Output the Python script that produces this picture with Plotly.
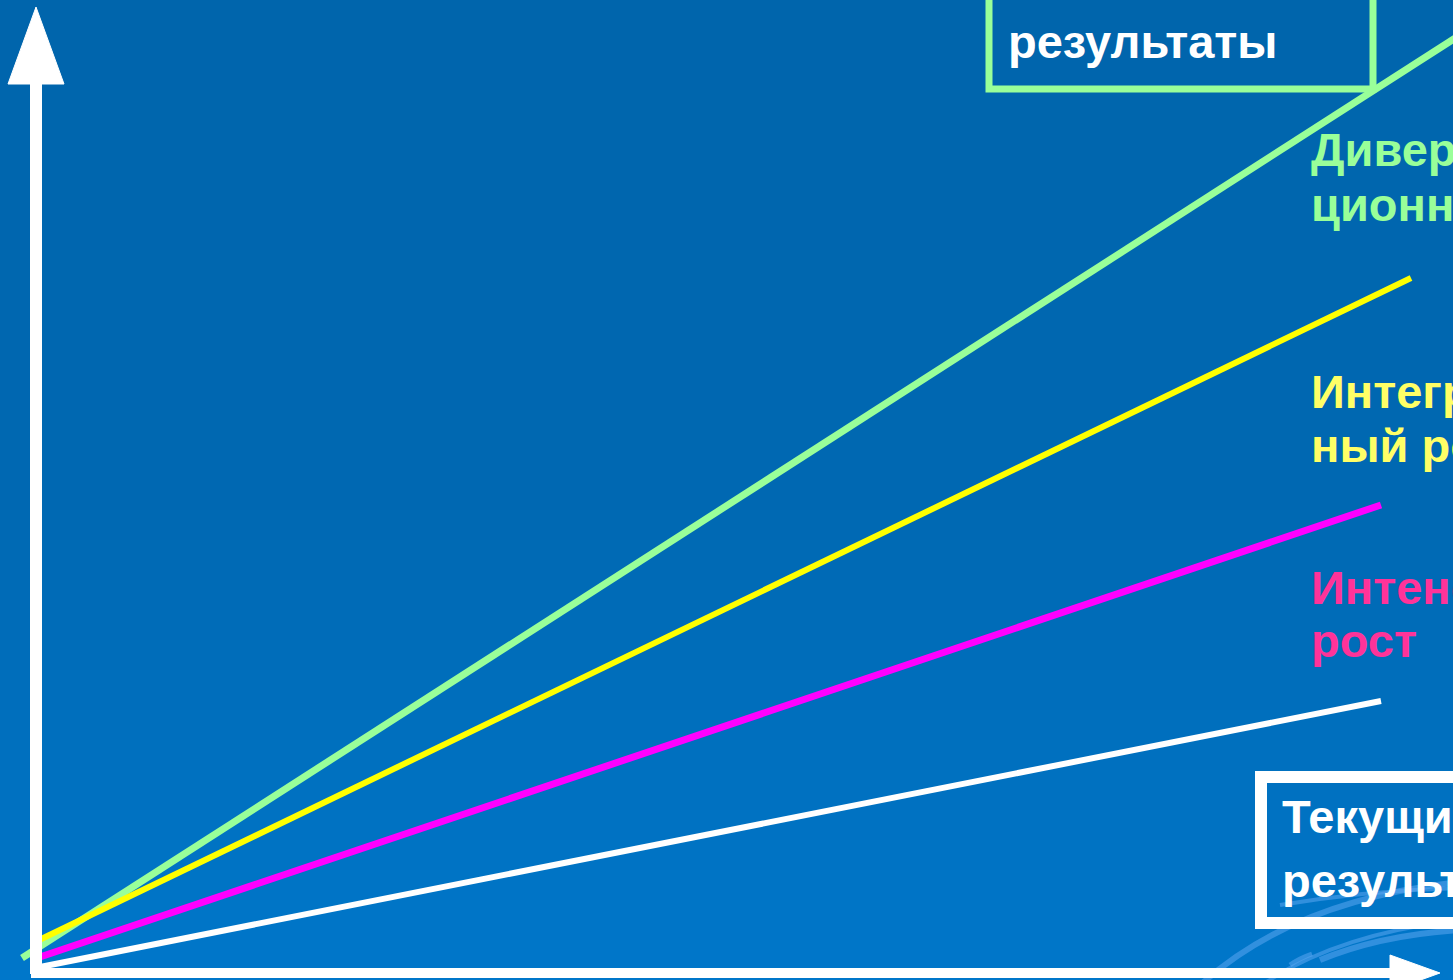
import plotly.graph_objects as go

W, H = 1453, 980

# ---- data: growth lines (start/end in chart units, y measured upward) ----
series_names = ["Диверсификационный рост", "Интеграционный рост", "Интенсивный рост", "Текущие результаты"]
series_colors = ["#99FF99", "#FFFF00", "#FF00FF", "#FFFFFF"]
series_widths = [7, 6, 7, 6]
x_start = [22, 35, 37, 40]
x_end = [1460, 1411, 1381, 1381]
y_start = [22, 38, 22, 13]
y_end = [945, 702, 475, 279]

# ---- text labels ----
label_lines = [
    ["Диверсифика-", "ционный рост"],
    ["Интеграцион-", "ный рост"],
    ["Интенсивный", "рост"],
]
label_text_colors = ["#99FF99", "#FFFF66", "#FF3399"]
label_x = 1309
label_centers_px = [(149, 204), (391, 445), (587, 640)]

top_box_lines = ["Желаемые", "результаты"]
bottom_box_lines = ["Текущие", "результаты"]

FONT = "Liberation Sans, Arial, sans-serif"
FS = 47


def py(v):
    """pixel row -> chart y (upward)"""
    return H - v


fig = go.Figure()

for name, c, w, xs, xe, ys, ye in zip(series_names, series_colors, series_widths,
                                      x_start, x_end, y_start, y_end):
    fig.add_trace(go.Scatter(x=[xs, xe], y=[ys, ye], mode="lines", name=name,
                             line=dict(color=c, width=w), hoverinfo="skip"))

shapes = []
# background gradient bands
top_rgb = (0, 101, 172)
mid_rgb = (0, 104, 178)
bot_rgb = (0, 119, 202)
step = 10
for r in range(0, H, step):
    t = r / H
    if t < 0.5:
        a, b, u = top_rgb, mid_rgb, t / 0.5
    else:
        a, b, u = mid_rgb, bot_rgb, (t - 0.5) / 0.5
    col = tuple(round(a[i] + (b[i] - a[i]) * u) for i in range(3))
    shapes.append(dict(type="rect", xref="x", yref="y", x0=0, x1=W,
                       y0=py(r + step + 1), y1=py(r), line=dict(width=0),
                       fillcolor="rgb(%d,%d,%d)" % col, layer="below"))

# decorative swirl arcs (bottom right)
swirl = "rgba(90,165,240,0.55)"
arcs = [
    ((1195, 990), (1290, 900), (1460, 882), 6),
    ((1320, 960), (1380, 935), (1460, 930), 6),
    ((1255, 990), (1330, 935), (1460, 920), 4),
    ((1290, 965), (1300, 958), (1312, 954), 5),
    ((1280, 905), (1370, 890), (1460, 888), 4),
]
for (p0, pc, p1, wd) in arcs:
    path = "M %f,%f Q %f,%f %f,%f" % (p0[0], py(p0[1]), pc[0], py(pc[1]), p1[0], py(p1[1]))
    shapes.append(dict(type="path", xref="x", yref="y", path=path,
                       line=dict(color=swirl, width=wd), layer="below"))

# axes (white bars + arrow heads)
shapes.append(dict(type="line", xref="x", yref="y", x0=36, x1=36, y0=py(974), y1=py(78),
                   line=dict(color="white", width=12)))
shapes.append(dict(type="path", xref="x", yref="y",
                   path="M %f,%f L %f,%f L %f,%f Z" % (36, py(7), 8, py(84), 64, py(84)),
                   fillcolor="white", line=dict(color="white", width=1)))
shapes.append(dict(type="line", xref="x", yref="y", x0=31, x1=1395, y0=py(973), y1=py(973),
                   line=dict(color="white", width=10)))
shapes.append(dict(type="path", xref="x", yref="y",
                   path="M %f,%f L %f,%f L %f,%f Z" % (1390, py(955), 1440, py(973), 1390, py(991)),
                   fillcolor="white", line=dict(color="white", width=1)))

# boxes
shapes.append(dict(type="rect", xref="x", yref="y", x0=989, x1=1373, y0=py(89), y1=py(-20),
                   line=dict(color="#99FF99", width=7), fillcolor="rgba(0,0,0,0)"))
shapes.append(dict(type="rect", xref="x", yref="y", x0=1261, x1=1480, y0=py(923), y1=py(777),
                   line=dict(color="white", width=12), fillcolor="rgba(0,0,0,0)"))

annotations = []


def add_text(txt, x, cy, color):
    annotations.append(dict(text="<b>%s</b>" % txt, x=x, y=py(cy), xref="x", yref="y",
                            xanchor="left", yanchor="middle", showarrow=False,
                            font=dict(family=FONT, size=FS, color=color)))


add_text(top_box_lines[0], 1006, -14, "white")
add_text(top_box_lines[1], 1006, 41, "white")
add_text(bottom_box_lines[0], 1280, 816, "white")
add_text(bottom_box_lines[1], 1280, 880, "white")
for lines, col, (c1, c2) in zip(label_lines, label_text_colors, label_centers_px):
    add_text(lines[0], label_x, c1, col)
    add_text(lines[1], label_x, c2, col)

fig.update_layout(
    width=W, height=H, margin=dict(l=0, r=0, t=0, b=0, pad=0),
    paper_bgcolor="#0066AE", plot_bgcolor="#0066AE",
    xaxis=dict(range=[0, W], visible=False, fixedrange=True),
    yaxis=dict(range=[0, H], visible=False, fixedrange=True),
    showlegend=False, shapes=shapes, annotations=annotations,
)

fig.write_html("out.html", config={"displayModeBar": False})
